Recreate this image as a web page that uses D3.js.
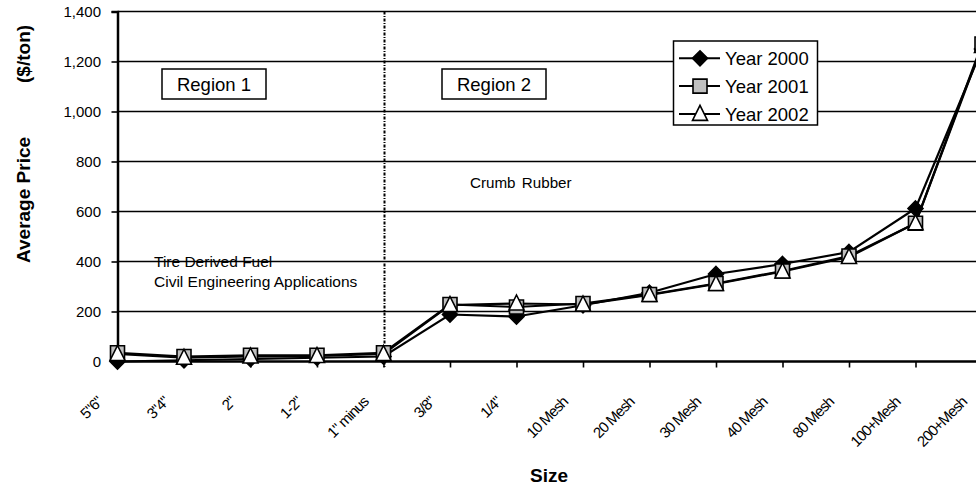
<!DOCTYPE html>
<html>
<head>
<meta charset="utf-8">
<script src="https://cdn.jsdelivr.net/npm/d3@7"></script>
<style>
  html, body { margin: 0; padding: 0; background: #fff; }
  svg { display: block; }
  text { font-family: "Liberation Sans", Arial, sans-serif; fill: #000; }
</style>
</head>
<body>
<svg id="chart" width="976" height="485"></svg>
<script>
// ---- data ----
const categories = ['5"6"', '3"4"', '2"', '1-2"', '1" minus', '3/8"', '1/4"', '10 Mesh', '20 Mesh', '30 Mesh', '40 Mesh', '80 Mesh', '100+Mesh', '200+Mesh'];
const year2000 = [0, 5, 10, 15, 20, 188, 180, 225, 275, 350, 390, 438, 612, 1250];
const year2001 = [35, 20, 25, 25, 35, 228, 218, 232, 268, 312, 362, 422, 553, 1270];
const year2002 = [30, 15, 20, 22, 30, 226, 232, 228, 266, 310, 360, 418, 553, 1262];
const seriesNames = ["Year 2000", "Year 2001", "Year 2002"];
const yTicks = [0, 200, 400, 600, 800, 1000, 1200, 1400];

const series = [
  { name: seriesNames[0], values: year2000, marker: "diamond" },
  { name: seriesNames[1], values: year2001, marker: "square" },
  { name: seriesNames[2], values: year2002, marker: "triangle" }
];

const svg = d3.select("#chart");
const pLeft = 117.5, pTop = 11.5, pBottom = 361.5, pRight = 982;

const x = d3.scalePoint().domain(categories).range([pLeft, pRight]).padding(0);
const y = d3.scaleLinear().domain([0, 1400]).range([pBottom, pTop]);

// gridlines
svg.append("g").selectAll("line").data(yTicks.filter(d => d > 0)).join("line")
  .attr("x1", pLeft).attr("x2", 990)
  .attr("y1", d => y(d)).attr("y2", d => y(d))
  .attr("stroke", "#000").attr("stroke-width", 1.6);

// region annotations
function regionBox(cx, label) {
  svg.append("rect").attr("x", cx - 52).attr("y", 69).attr("width", 104).attr("height", 30)
    .attr("fill", "#fff").attr("stroke", "#000").attr("stroke-width", 1.5);
  svg.append("text").attr("x", cx).attr("y", 91).attr("text-anchor", "middle")
    .attr("font-size", 18.5).text(label);
}
regionBox(214, "Region 1");
regionBox(494, "Region 2");

svg.append("text").attr("x", 470).attr("y", 188).attr("font-size", 15.2).attr("word-spacing", 2).text("Crumb Rubber");
svg.append("text").attr("x", 154).attr("y", 267).attr("font-size", 15.5).text("Tire Derived Fuel");
svg.append("text").attr("x", 154).attr("y", 287).attr("font-size", 15.5).text("Civil Engineering Applications");

// divider
svg.append("line").attr("x1", x('1" minus') + 1).attr("x2", x('1" minus') + 1)
  .attr("y1", pTop).attr("y2", pBottom + 6)
  .attr("stroke", "#000").attr("stroke-width", 2).attr("stroke-dasharray", "3,1.5,1,1.5");

// y axis
const yAxis = d3.axisLeft(y).tickValues(yTicks).tickSize(6).tickPadding(10)
  .tickFormat(d3.format(","));
const gy = svg.append("g").attr("transform", `translate(${pLeft},0)`).call(yAxis);
gy.select(".domain").attr("stroke-width", 2.5);
gy.selectAll(".tick line").attr("stroke-width", 1.6);
gy.selectAll(".tick text").attr("font-size", 15).attr("font-family", '"Liberation Sans", Arial, sans-serif')
  .attr("dy", "0.36em").attr("x", -16.5);

// x axis
const xAxis = d3.axisBottom(x).tickSize(6).tickSizeOuter(0).tickFormat("");
const gx = svg.append("g").attr("transform", `translate(0,${pBottom})`).call(xAxis);
gx.select(".domain").attr("stroke-width", 2.5).attr("d", `M${pLeft},0H990`);
gx.selectAll(".tick line").attr("stroke-width", 1.6);

// x tick labels (rotated)
svg.append("g").selectAll("text").data(categories).join("text")
  .attr("transform", d => `translate(${x(d) - 18},399) rotate(-45)`)
  .attr("text-anchor", "end").attr("dominant-baseline", "central")
  .attr("font-size", 15).attr("letter-spacing", -0.9)
  .text(d => d);

// series lines
const line = d3.line().x((d, i) => x(categories[i])).y(d => y(d));
const markerPath = {
  diamond: "M0,-7.5L7.5,0L0,7.5L-7.5,0Z",
  square: "M-7,-7H7V7H-7Z",
  triangle: "M0,-8.5L7.5,6.5L-7.5,6.5Z"
};
const markerFill = { diamond: "#000", square: "#c0c0c0", triangle: "#fff" };

series.forEach(s => {
  svg.append("path").datum(s.values).attr("d", line)
    .attr("fill", "none").attr("stroke", "#000").attr("stroke-width", 2.2);
});
series.forEach(s => {
  svg.append("g").selectAll("path").data(s.values).join("path")
    .attr("transform", (d, i) => `translate(${x(categories[i])},${y(d)})`)
    .attr("d", markerPath[s.marker])
    .attr("fill", markerFill[s.marker]).attr("stroke", "#000").attr("stroke-width", 1.6);
});

// legend
const lg = svg.append("g");
lg.append("rect").attr("x", 673.5).attr("y", 41).attr("width", 144).attr("height", 84)
  .attr("fill", "#fff").attr("stroke", "#000").attr("stroke-width", 1.5);
series.forEach((s, i) => {
  const cy = 58.3 + i * 27.8;
  lg.append("line").attr("x1", 679).attr("x2", 720).attr("y1", cy).attr("y2", cy)
    .attr("stroke", "#000").attr("stroke-width", 2);
  lg.append("path").attr("transform", `translate(700,${cy})`).attr("d", markerPath[s.marker])
    .attr("fill", markerFill[s.marker]).attr("stroke", "#000").attr("stroke-width", 1.6);
  lg.append("text").attr("x", 725).attr("y", cy + 6.6).attr("font-size", 18.5).text(s.name);
});

// axis titles
const yt = svg.append("text").attr("transform", "translate(30,263) rotate(-90)")
  .attr("font-size", 19).attr("font-weight", "bold").attr("text-anchor", "start");
yt.append("tspan").text("Average Price");
yt.append("tspan").attr("dx", 54).text("($/ton)");

svg.append("text").attr("x", 549).attr("y", 482).attr("text-anchor", "middle")
  .attr("font-size", 19).attr("font-weight", "bold").text("Size");
</script>
</body>
</html>
